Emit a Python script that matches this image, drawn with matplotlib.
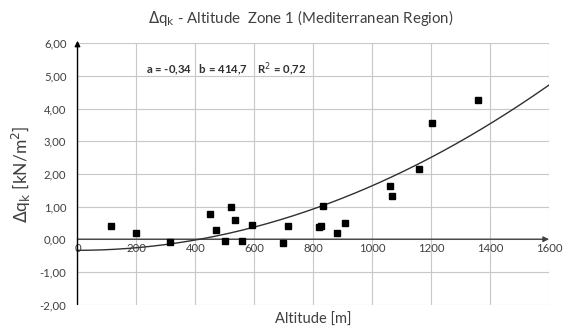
import matplotlib.pyplot as plt
import numpy as np

# measured points (altitude in m, delta q_k in kN/m2)
altitude = [115, 200, 315, 450, 469, 502, 520, 536, 557, 593, 698, 715,
            819, 828, 834, 879, 908, 1062, 1068, 1158, 1204, 1358]
delta_qk = [0.41, 0.20, -0.07, 0.78, 0.27, -0.06, 0.99, 0.60, -0.04, 0.45,
            -0.11, 0.42, 0.37, 0.41, 1.02, 0.20, 0.50, 1.63, 1.33, 2.15,
            3.57, 4.26]

# fitted trend parameters shown on the chart
a_fit = -0.34
b_fit = 414.7
r2_fit = 0.72

x_ticks = [0, 200, 400, 600, 800, 1000, 1200, 1400, 1600]
y_ticks = [-2, -1, 0, 1, 2, 3, 4, 5, 6]

plt.rcParams['font.family'] = ['Lato', 'DejaVu Sans']
txt_col = '#404040'
grid_col = '#c8c8c8'

fig = plt.figure(figsize=(5.67, 3.35), dpi=100)
ax = fig.add_axes([0.1367, 0.091, 0.8315, 0.7797])

ax.set_xlim(0, 1600)
ax.set_ylim(-2, 6)

# grid
for xv in x_ticks[1:]:
    ax.axvline(xv, color=grid_col, lw=0.8, zorder=0)
for yv in y_ticks:
    ax.axhline(yv, color=grid_col, lw=0.8, zorder=0)
for s in ax.spines.values():
    s.set_visible(False)

# trend curve y = a * (1 - (x/b)^2)
xc = np.linspace(0, 1600, 300)
ax.plot(xc, a_fit * (1 - (xc / b_fit) ** 2), color='#303030', lw=1.0, zorder=3)

ax.plot(altitude, delta_qk, 's', color='black', ms=3.8, zorder=4)

# axis arrows
ax.annotate('', xy=(1600, 0), xytext=(0, 0),
            arrowprops=dict(arrowstyle='-|>', color='#404040', lw=1.0,
                            mutation_scale=8, shrinkA=0, shrinkB=0),
            annotation_clip=False, zorder=2)
ax.annotate('', xy=(0, 6.08), xytext=(0, -2),
            arrowprops=dict(arrowstyle='-|>', color='black', lw=1.0,
                            mutation_scale=8, shrinkA=0, shrinkB=0),
            annotation_clip=False, zorder=5)

# ticks
ax.set_xticks([])
ax.set_yticks(y_ticks)
ax.set_yticklabels([f'{v:.2f}'.replace('.', ',') for v in y_ticks],
                   fontsize=8.2, color=txt_col)
ax.tick_params(axis='y', length=0, pad=8)
for xv in x_ticks:
    ax.text(xv, -0.13, str(xv), ha='center', va='top', fontsize=8.2,
            color=txt_col)

ax.text(232, 5.2, 'a = -0,34   b = 414,7    R$^2$ = 0,72',
        fontsize=8.2, fontweight='bold', color='#303030', va='center')

ax.set_xlabel('Altitude [m]', fontsize=10.5, color=txt_col, labelpad=6)
ax.set_ylabel('$\\Delta$q$_\\mathrm{k}$ [kN/m$^2$]', fontsize=12.5,
              color=txt_col, labelpad=5)
fig.text(0.53, 0.945, '$\\Delta$q$_\\mathrm{k}$ - Altitude  Zone 1 (Mediterranean Region)',
         ha='center', va='center', fontsize=10.8, color=txt_col)

fig.savefig('out.png', dpi=100)
